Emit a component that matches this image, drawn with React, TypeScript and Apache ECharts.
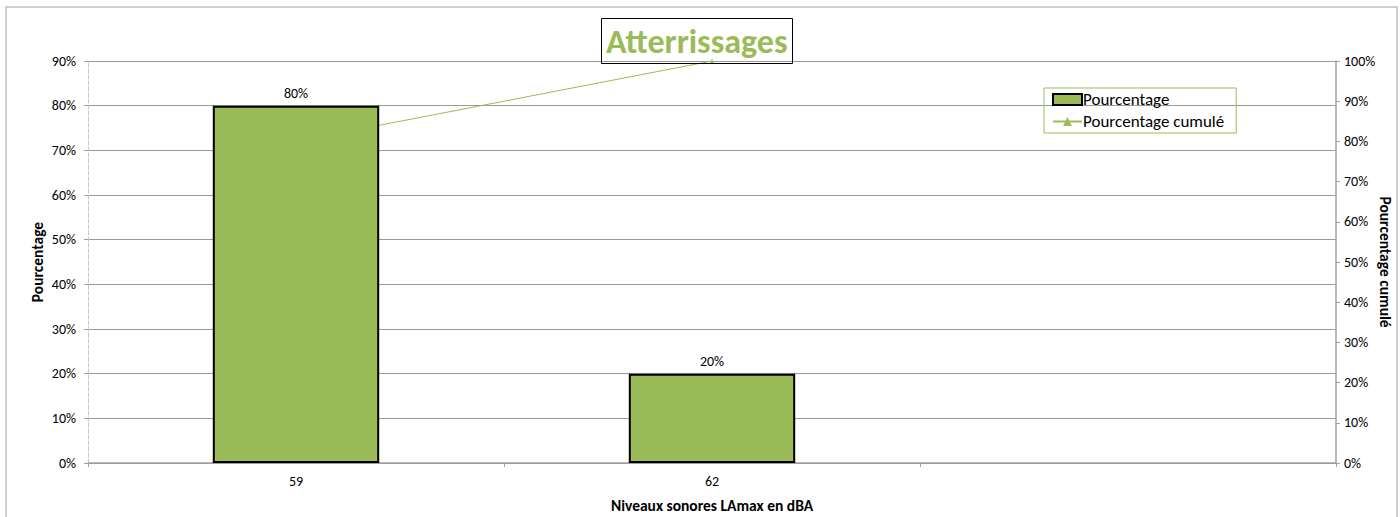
import React, { useEffect, useRef } from "react";
import * as echarts from "echarts";

const categories = ["59", "62", ""];
const percentValues = [80, 20, null];
const cumulativeValues = [80, 100, null];
const leftTicks = { min: 0, max: 90, interval: 10 };
const rightTicks = { min: 0, max: 100, interval: 10 };

const GREEN = "#9BBB59";
const FONT = "Carlito, Calibri, Lato, 'Open Sans', sans-serif";

export default function App() {
  const ref = useRef<HTMLDivElement>(null);
  useEffect(() => {
    if (!ref.current) return;
    const chart = echarts.init(ref.current, undefined, { renderer: "svg" });
    chart.setOption({
      animation: false,
      backgroundColor: "#fff",
      textStyle: { fontFamily: FONT },
      graphic: [
        {
          type: "rect",
          shape: { x: 6, y: 7, width: 1391, height: 520 },
          style: { fill: "none", stroke: "#c0c0c0", lineWidth: 1.5 },
          silent: true,
          z: -10,
        },
      ],
      title: {
        text: "Atterrissages",
        left: 601,
        top: 18,
        padding: [6, 5, 6, 5],
        borderColor: "#000",
        borderWidth: 1,
        textStyle: { color: GREEN, fontSize: 34, fontWeight: "bold", fontFamily: FONT },
        z: 10,
      },
      legend: {
        orient: "vertical",
        left: 1044,
        top: 88,
        padding: [3, 12, 3, 8],
        itemGap: 5,
        itemWidth: 29,
        itemHeight: 11,
        borderColor: GREEN,
        borderWidth: 1,
        textStyle: { fontSize: 17, color: "#000", fontFamily: FONT, padding: [0, 0, 0, -4] },
        data: [
          { name: "Pourcentage", icon: "rect", itemStyle: { color: GREEN, borderColor: "#000", borderWidth: 2 } },
          { name: "Pourcentage cumulé" },
        ],
      },
      grid: { left: 88, right: 64, top: 61, bottom: 54, outerBoundsMode: "none", containLabel: false },
      xAxis: {
        type: "category",
        data: categories,
        boundaryGap: true,
        name: "Niveaux sonores LAmax en dBA",
        nameLocation: "middle",
        nameGap: 34,
        nameMoveOverlap: false,
        nameTextStyle: { fontWeight: "bold", fontSize: 15.5, color: "#000", fontFamily: FONT },
        axisLine: { lineStyle: { color: "#a0a0a0", width: 1.5 } },
        axisTick: { show: true, alignWithLabel: false, length: 4, lineStyle: { color: "#a0a0a0" } },
        axisLabel: { color: "#000", fontSize: 14, margin: 11 },
      },
      yAxis: [
        {
          type: "value",
          min: leftTicks.min,
          max: leftTicks.max,
          interval: leftTicks.interval,
          position: "left",
          name: "Pourcentage",
          nameLocation: "middle",
          nameGap: 43,
          nameMoveOverlap: false,
          nameRotate: 90,
          nameTextStyle: { fontWeight: "bold", fontSize: 15.5, color: "#000", fontFamily: FONT },
          axisLine: { show: true, lineStyle: { color: "#c8c8c8", type: "dashed", width: 1 } },
          axisTick: { show: true, inside: false, length: 4, lineStyle: { color: "#a0a0a0" } },
          axisLabel: { formatter: "{value}%", color: "#000", fontSize: 14, margin: 12 },
          splitLine: { show: true, lineStyle: { color: "#999", width: 1 } },
        },
        {
          type: "value",
          min: rightTicks.min,
          max: rightTicks.max,
          interval: rightTicks.interval,
          position: "right",
          name: "Pourcentage cumulé",
          nameLocation: "middle",
          nameGap: 41,
          nameMoveOverlap: false,
          nameRotate: -90,
          nameTextStyle: { fontWeight: "bold", fontSize: 15.5, color: "#000", fontFamily: FONT },
          axisLine: { show: true, lineStyle: { color: "#a0a0a0", width: 1.5 } },
          axisTick: { show: true, inside: false, length: 4, lineStyle: { color: "#a0a0a0" } },
          axisLabel: { formatter: "{value}%", color: "#000", fontSize: 14, margin: 8 },
          splitLine: { show: false },
        },
      ],
      series: [
        {
          name: "Pourcentage cumulé",
          type: "line",
          yAxisIndex: 1,
          data: cumulativeValues,
          z: 1,
          symbol: "triangle",
          symbolSize: 4,
          itemStyle: { color: GREEN },
          lineStyle: { color: GREEN, width: 1 },
        },
        {
          name: "Pourcentage",
          type: "bar",
          yAxisIndex: 0,
          data: percentValues,
          barWidth: "40%",
          z: 2,
          itemStyle: { color: GREEN, borderColor: "#000", borderWidth: 2 },
          label: { show: true, position: "top", formatter: "{c}%", color: "#000", fontSize: 14, distance: 5 },
        },
      ],
    });
    return () => chart.dispose();
  }, []);
  return (
    <div
      ref={ref}
      style={{ position: "fixed", left: 0, top: 0, width: 1400, height: 517 }}
    />
  );
}
